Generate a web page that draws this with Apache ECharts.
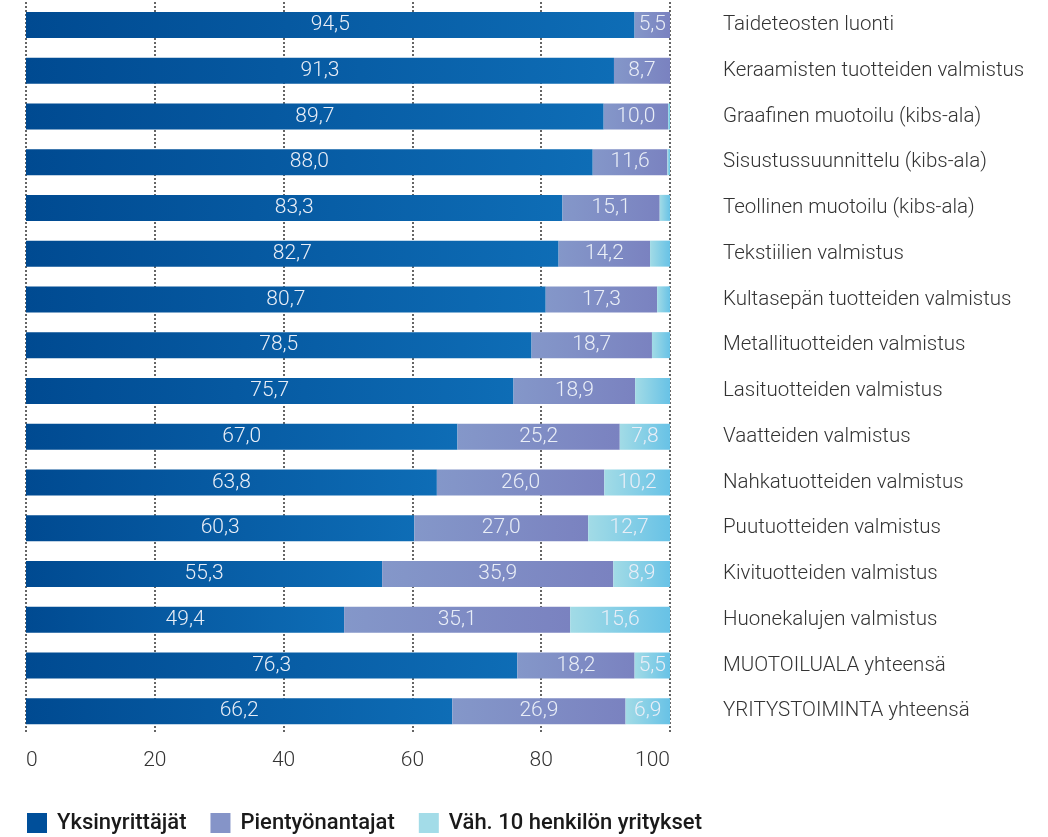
<!DOCTYPE html>
<html><head><meta charset="utf-8">
<script src="https://cdn.jsdelivr.net/npm/echarts@6/dist/echarts.min.js"></script>
<style>html,body{margin:0;padding:0;background:#fff}#c{width:1048px;height:837px}</style>
</head><body><div id="c"></div>
<script>
const categories = [
  "Taideteosten luonti",
  "Keraamisten tuotteiden valmistus",
  "Graafinen muotoilu (kibs-ala)",
  "Sisustussuunnittelu (kibs-ala)",
  "Teollinen muotoilu (kibs-ala)",
  "Tekstiilien valmistus",
  "Kultasepän tuotteiden valmistus",
  "Metallituotteiden valmistus",
  "Lasituotteiden valmistus",
  "Vaatteiden valmistus",
  "Nahkatuotteiden valmistus",
  "Puutuotteiden valmistus",
  "Kivituotteiden valmistus",
  "Huonekalujen valmistus",
  "MUOTOILUALA yhteensä",
  "YRITYSTOIMINTA yhteensä"
];
const seriesNames = ["Yksinyrittäjät", "Pientyönantajat", "Väh. 10 henkilön yritykset"];
const yksinyrittajat = [94.5, 91.3, 89.7, 88.0, 83.3, 82.7, 80.7, 78.5, 75.7, 67.0, 63.8, 60.3, 55.3, 49.4, 76.3, 66.2];
const pientyonantajat = [5.5, 8.7, 10.0, 11.6, 15.1, 14.2, 17.3, 18.7, 18.9, 25.2, 26.0, 27.0, 35.9, 35.1, 18.2, 26.9];
const vah10 = [0, 0, 0.3, 0.4, 1.6, 3.1, 2.0, 2.8, 5.4, 7.8, 10.2, 12.7, 8.9, 15.6, 5.5, 6.9];
const xTicks = [0, 20, 40, 60, 80, 100];

const fmt = v => v.toFixed(1).replace('.', ',');
const grad = (a, b) => new echarts.graphic.LinearGradient(0, 0, 1, 0, [{offset: 0, color: a}, {offset: 1, color: b}]);
const labelBase = {
  show: true, position: 'inside', color: '#e9eef7', fontSize: 21,
  fontFamily: 'Roboto', fontWeight: 300
};
function mkData(arr, minShow) {
  return arr.map(v => ({value: v, label: {show: v >= minShow}}));
}
const chart = echarts.init(document.getElementById('c'), null, {renderer: 'canvas'});
chart.setOption({
  animation: false,
  grid: {left: 26, right: 378, top: 2, bottom: 103},
  legend: {
    top: 812, left: 27, padding: 0, itemWidth: 20, itemHeight: 20, itemGap: 24,
    icon: 'rect',
    textStyle: {fontSize: 22, fontWeight: 500, color: '#1a1a1a', fontFamily: 'Roboto', padding: [0, 0, 0, 5]},
    data: [
      {name: seriesNames[0], itemStyle: {color: '#004f9a'}},
      {name: seriesNames[1], itemStyle: {color: '#8594c8'}},
      {name: seriesNames[2], itemStyle: {color: '#a3dce8'}}
    ]
  },
  xAxis: {
    type: 'value', min: 0, max: 100, interval: 20,
    axisLine: {show: false}, axisTick: {show: false},
    axisLabel: {
      fontSize: 21, color: '#333', fontFamily: 'Roboto', fontWeight: 300, margin: 16,
      alignMinLabel: 'left', alignMaxLabel: 'right',
      formatter: v => xTicks.includes(v) ? String(v) : ''
    },
    splitLine: {show: true, lineStyle: {type: [2, 2], color: '#333', width: 1.5}}
  },
  yAxis: {
    type: 'category', data: categories, inverse: true, position: 'right',
    axisLine: {show: false}, axisTick: {show: false},
    axisLabel: {fontSize: 20.5, color: '#333', fontFamily: 'Roboto', fontWeight: 300, margin: 53, align: 'left'}
  },
  series: [
    {
      name: seriesNames[0], type: 'bar', stack: 't', barWidth: 26,
      itemStyle: {color: grad('#004a91', '#0e6db6')},
      label: Object.assign({}, labelBase, {formatter: p => fmt(p.value)}),
      data: mkData(yksinyrittajat, 0.5)
    },
    {
      name: seriesNames[1], type: 'bar', stack: 't', barWidth: 26,
      itemStyle: {color: grad('#8497c9', '#7a82c0')},
      label: Object.assign({}, labelBase, {formatter: p => fmt(p.value)}),
      data: mkData(pientyonantajat, 0.5)
    },
    {
      name: seriesNames[2], type: 'bar', stack: 't', barWidth: 26,
      itemStyle: {color: grad('#a2dbe6', '#68c2e6')},
      label: Object.assign({}, labelBase, {formatter: p => fmt(p.value)}),
      data: mkData(vah10, 5.5)
    }
  ]
});
</script>
</body></html>
